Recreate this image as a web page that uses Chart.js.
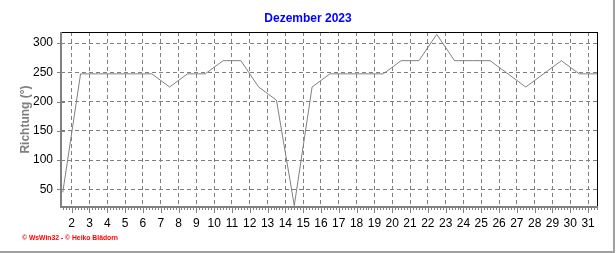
<!DOCTYPE html>
<html>
<head>
<meta charset="utf-8">
<script src="https://cdn.jsdelivr.net/npm/chart.js@4/dist/chart.umd.min.js"></script>
<style>
  html, body { margin: 0; padding: 0; background: #fff; }
  #wrap { width: 616px; height: 253px; position: relative; }
</style>
</head>
<body>
<div id="wrap"><canvas id="chart"></canvas></div>
<script>
// Wind direction (daily mean), December 2023
const title = "Dezember 2023";
const days = [1, 2, 3, 4, 5, 6, 7, 8, 9, 10, 11, 12, 13, 14, 15, 16,
  17, 18, 19, 20, 21, 22, 23, 24, 25, 26, 27, 28, 29, 30, 31];
const direction = [45, 247.5, 247.5, 247.5, 247.5, 247.5, 225, 247.5, 247.5, 270, 270,
  225, 202.5, 22.5, 225, 247.5, 247.5, 247.5, 247.5, 270, 270, 315, 270, 270, 270,
  247.5, 225, 247.5, 270, 247.5, 247.5];
const xTickDays = [2, 3, 4, 5, 6, 7, 8, 9, 10, 11, 12, 13, 14, 15, 16, 17, 18, 19,
  20, 21, 22, 23, 24, 25, 26, 27, 28, 29, 30, 31];
const yTicks = [50, 100, 150, 200, 250, 300];

const GRAY = "#808080";

// values are daily means, plotted at noon of each day
const points = days.map((d, i) => ({ x: d + 0.5, y: direction[i] }));

const framePlugin = {
  id: "frame",
  afterDraw(chart) {
    const { ctx, chartArea: a, scales } = chart;
    const x = scales.x, y = scales.y;
    ctx.save();

    // title, centred on the whole picture
    ctx.fillStyle = "#0000ff";
    ctx.font = "bold 12px 'Liberation Sans', Arial";
    ctx.textAlign = "center";
    ctx.textBaseline = "middle";
    ctx.fillText(title, chart.width / 2, 19);

    // top + right border
    ctx.strokeStyle = "#000";
    ctx.lineWidth = 1;
    ctx.beginPath();
    ctx.moveTo(a.left, a.top + 0.5);
    ctx.lineTo(a.right + 1, a.top + 0.5);
    ctx.moveTo(a.right + 0.5, a.top);
    ctx.lineTo(a.right + 0.5, a.bottom);
    ctx.stroke();

    // left + bottom axis
    ctx.strokeStyle = GRAY;
    ctx.lineWidth = 2;
    ctx.beginPath();
    ctx.moveTo(a.left, a.top);
    ctx.lineTo(a.left, a.bottom);
    ctx.lineTo(a.right + 1, a.bottom);
    ctx.stroke();

    // x ticks: major each day, minor every 4 hours
    ctx.lineWidth = 1;
    ctx.beginPath();
    for (let k = Math.ceil(x.min * 6); k <= Math.floor(x.max * 6); k++) {
      const px = Math.round(x.getPixelForValue(k / 6)) + 0.5;
      const len = k % 6 === 0 ? 5 : 2;
      ctx.moveTo(px, a.bottom);
      ctx.lineTo(px, a.bottom + 1 + len);
    }
    // y ticks cross the axis
    yTicks.forEach((v) => {
      const py = Math.round(y.getPixelForValue(v)) + 0.5;
      ctx.moveTo(a.left - 4, py);
      ctx.lineTo(a.left + 4, py);
    });
    ctx.stroke();

    // outer frame
    ctx.strokeStyle = "#a0a0a0";
    ctx.lineWidth = 2;
    ctx.beginPath();
    ctx.moveTo(614, 0);
    ctx.lineTo(614, 252);
    ctx.lineTo(0, 252);
    ctx.stroke();

    // credits, squeezed to the width of the original bitmap font
    const credit = "© WsWin32 - © Heiko Blädorn";
    ctx.fillStyle = "#ff0000";
    ctx.font = "bold 7px 'Liberation Sans', Arial";
    ctx.textAlign = "left";
    const w = ctx.measureText(credit).width;
    ctx.translate(22, 238);
    ctx.scale(96 / w, 1);
    ctx.fillText(credit, 0, 0);
    ctx.restore();
  },
};

new Chart(document.getElementById("chart"), {
  type: "line",
  data: {
    datasets: [{
      data: points,
      borderColor: GRAY,
      borderWidth: 1,
      pointRadius: 0,
      tension: 0,
      fill: false,
    }],
  },
  options: {
    responsive: true,
    maintainAspectRatio: false,
    animation: false,
    layout: { padding: { left: 0, right: 19, top: 32, bottom: 0 } },
    plugins: {
      legend: { display: false },
      tooltip: { enabled: false },
      title: { display: false },
    },
    scales: {
      x: {
        type: "linear",
        min: 1.4,
        max: 31.5,
        afterBuildTicks: (s) => { s.ticks = xTickDays.map((v) => ({ value: v })); },
        afterFit: (s) => { s.height = 46; },
        ticks: {
          color: "#000",
          padding: 9,
          maxRotation: 0,
          autoSkip: false,
          font: { family: "'Liberation Sans', Arial", size: 12 },
        },
        grid: { color: GRAY, lineWidth: 1, drawTicks: false },
        border: { display: false, dash: [4, 3] },
      },
      y: {
        min: 20,
        max: 319,
        afterBuildTicks: (s) => { s.ticks = yTicks.map((v) => ({ value: v })); },
        afterFit: (s) => { s.width = 61; },
        ticks: {
          color: "#000",
          padding: 8,
          font: { family: "'Liberation Sans', Arial", size: 12 },
        },
        grid: { color: GRAY, lineWidth: 1, drawTicks: false },
        border: { display: false, dash: [4, 3] },
        title: {
          display: true,
          text: "Richtung (°)",
          color: GRAY,
          font: { family: "'Liberation Sans', Arial", size: 12, weight: "bold" },
          padding: { top: 18, bottom: 0 },
        },
      },
    },
  },
  plugins: [framePlugin],
});
</script>
</body>
</html>
